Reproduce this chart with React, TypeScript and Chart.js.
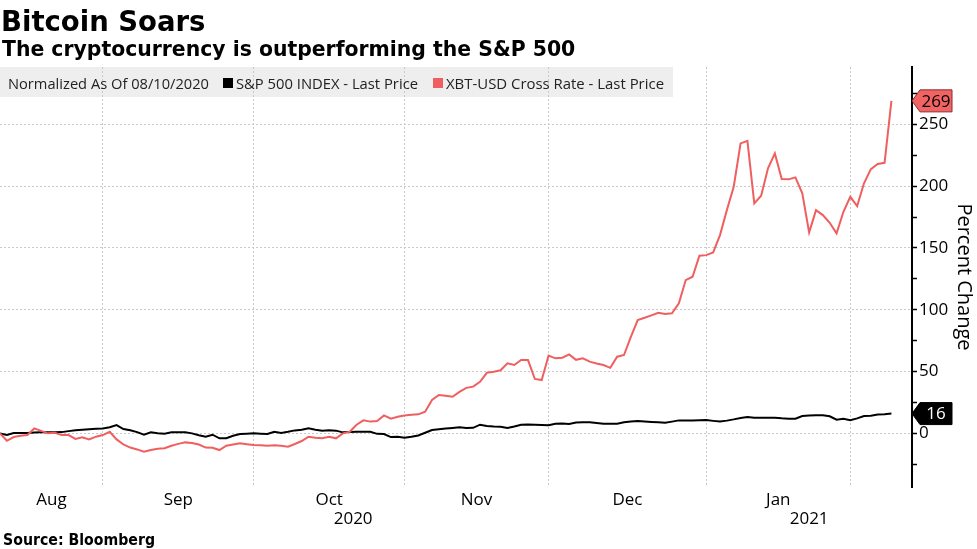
import React, { useEffect, useRef } from 'react';
import { Chart, registerables } from 'chart.js';

Chart.register(...registerables);

// ---- data (percent change, normalized as of 08/10/2020, one value per weekday) ----
const startDate = '2020-08-10';

const spxValues = [
  0, -1.3, 0.2, 0.3, 0.3, 0.6, 0.8, 0.8, 0.8, 1.0,
  1.8, 2.5, 3, 3.3, 3.7, 4, 4.9, 6.7, 3.5, 2.5,
  1, -1, 0.8, 0, -0.3, 0.8, 0.8, 0.8, 0, -1.5,
  -2.7, -1.1, -4, -4, -2, -0.5, -0.3, 0, -0.3, -0.5,
  1.3, 0.4, 1.3, 2.4, 3, 4.2, 3, 2.2, 2.5, 2.2,
  0.8, 1, 1.3, 1.3, 1.3, -0.4, -0.5, -3, -2.8, -3.5,
  -2.8, -1.7, 0.5, 2.7, 3.3, 4, 4.4, 4.9, 4.3, 4.5,
  7, 6, 5.5, 5.3, 4.3, 5.5, 7, 7.2, 7, 6.7,
  6.5, 7.8, 8, 7.6, 8.8, 9, 8.9, 8.3, 7.8, 7.8,
  7.8, 9, 9.6, 10, 9.6, 9.2, 8.9, 8.6, 9.5, 10.5,
  10.5, 10.5, 10.6, 10.8, 10.1, 9.5, 10.3, 11.3, 12.5, 13.3,
  12.7, 12.7, 12.7, 12.7, 12.2, 11.9, 11.9, 14, 14.4, 14.6,
  14.6, 13.8, 11, 11.8, 10.7, 12.1, 14, 14.2, 15.2, 15.4,
  16,
];

const xbtValues = [
  0, -6, -3, -2, -1.4, 4, 2, 0, 0.5, -1.4,
  -1.4, -4.5, -3.2, -4.9, -2.7, -1.4, 1.3, -4.9, -9, -11.5,
  -13, -14.9, -13.5, -12.5, -12, -10, -8.5, -7.3, -7.8, -9,
  -11.5, -11.6, -13.5, -10, -9, -8, -8.8, -9.5, -9.7, -10,
  -9.7, -10, -10.8, -8.6, -6.2, -2.7, -3.5, -4, -2.7, -4,
  0, 1.3, 7, 10.5, 9.5, 9.9, 14.5, 11.8, 13.4, 14.5,
  15, 15.4, 17.5, 27, 31, 30.5, 29.6, 33.5, 36.8, 37.8,
  41.7, 49, 49.8, 51, 56.6, 55.3, 59.3, 59.3, 44, 43.1,
  63, 60.7, 61.2, 63.9, 59.5, 60.7, 58, 56.5, 55.3, 53,
  62, 63.4, 78, 91.7, 93.5, 95.5, 97.6, 96.5, 97.1, 105.2,
  124, 126.7, 143.7, 144.2, 146.4, 160.4, 180.6, 199.5, 234.6, 236.7,
  186.1, 192.2, 214.4, 226.5, 205.7, 205.5, 207.1, 194.2, 162.6, 180.6,
  176.6, 170.4, 161.8, 179.3, 191.4, 183.9, 202.3, 213.8, 217.9, 218.9,
  269,
];

const monthLabels = ['Aug', 'Sep', 'Oct', 'Nov', 'Dec', 'Jan'];
const yearLabels = ['2020', '2021'];
const yTickValues = [-25, 0, 25, 50, 75, 100, 125, 150, 175, 200, 225, 250, 275];

const seriesNames = ['S&P 500 INDEX - Last Price', 'XBT-USD Cross Rate - Last Price'];
const legendNote = 'Normalized As Of 08/10/2020';
const titleText = 'Bitcoin Soars';
const subtitleText = 'The cryptocurrency is outperforming the S&P 500';
const sourceText = 'Source: Bloomberg';
const yTitle = 'Percent Change';

// ---- layout / style ----
const W = 977;
const H = 549;
const X_MAX = 133;
const Y_MIN = -43.4;
const Y_MAX = 296.4;
const RED = '#f05f5f';
const GRID = '#c9c9c9';
const SANS = '"Open Sans", "Noto Sans", sans-serif';
const BOLD = '"DejaVu Sans", sans-serif';

function weekdayDates(start: string, n: number): Date[] {
  const out: Date[] = [];
  const d = new Date(start + 'T00:00:00Z');
  while (out.length < n) {
    const wd = d.getUTCDay();
    if (wd !== 0 && wd !== 6) out.push(new Date(d.getTime()));
    d.setUTCDate(d.getUTCDate() + 1);
  }
  return out;
}

const dates = weekdayDates(startDate, spxValues.length);
const monthEnds: number[] = [];
for (let i = 0; i < dates.length - 1; i++) {
  if (dates[i].getUTCMonth() !== dates[i + 1].getUTCMonth()) monthEnds.push(i);
}
const bounds = [0, ...monthEnds];
const monthMids = monthLabels.map((_, k) => (bounds[k] + bounds[k + 1]) / 2);
const yearEnd = monthEnds.find((i) => dates[i].getUTCMonth() === 11) as number;
const yearMids = [(0 + yearEnd) / 2, (yearEnd + X_MAX) / 2];
const midLabel = new Map<number, string>();
monthMids.forEach((v, k) => midLabel.set(v, monthLabels[k]));
const xTickValues = [...monthEnds, ...monthMids].sort((a, b) => a - b);

function drawTag(ctx: CanvasRenderingContext2D, x: number, y: number, text: string, fill: string, stroke: string, textColor: string) {
  const h = 11;
  ctx.save();
  ctx.beginPath();
  ctx.moveTo(x, y);
  ctx.lineTo(x + 8, y - h);
  ctx.lineTo(x + 40, y - h);
  ctx.lineTo(x + 40, y + h);
  ctx.lineTo(x + 8, y + h);
  ctx.closePath();
  ctx.fillStyle = fill;
  ctx.fill();
  ctx.strokeStyle = stroke;
  ctx.lineWidth = 1;
  ctx.stroke();
  ctx.fillStyle = textColor;
  ctx.font = `17px ${SANS}`;
  ctx.textAlign = 'center';
  ctx.textBaseline = 'middle';
  ctx.fillText(text, x + 24, y + 1);
  ctx.restore();
}

const decor = {
  id: 'decor',
  beforeDraw(chart: any) {
    const ctx = chart.ctx as CanvasRenderingContext2D;
    ctx.save();
    ctx.fillStyle = '#ffffff';
    ctx.fillRect(0, 0, W, H);
    ctx.fillStyle = '#eeeeee';
    ctx.fillRect(0, 67, 673, 30);
    ctx.restore();
  },
  afterDraw(chart: any) {
    const ctx = chart.ctx as CanvasRenderingContext2D;
    const xs = chart.scales.x;
    const ys = chart.scales.y;
    ctx.save();
    ctx.fillStyle = '#000';
    ctx.textAlign = 'left';
    ctx.textBaseline = 'alphabetic';
    ctx.font = `bold 27.5px ${BOLD}`;
    ctx.fillText(titleText, 1, 31, 205);
    ctx.font = `bold 20.4px ${BOLD}`;
    ctx.fillText(subtitleText, 2, 56, 576);

    // legend
    ctx.font = `15px ${SANS}`;
    ctx.fillStyle = '#222';
    ctx.fillText(legendNote, 8, 89, 201);
    ctx.fillStyle = '#000';
    ctx.fillRect(223, 78, 10, 10);
    ctx.fillStyle = '#222';
    ctx.fillText(seriesNames[0], 236, 89, 182);
    ctx.fillStyle = RED;
    ctx.fillRect(433, 78, 10, 10);
    ctx.fillStyle = '#222';
    ctx.fillText(seriesNames[1], 446, 89, 218);

    // year labels
    ctx.fillStyle = '#000';
    ctx.font = `17px ${SANS}`;
    ctx.textAlign = 'center';
    ctx.textBaseline = 'middle';
    yearMids.forEach((v, k) => ctx.fillText(yearLabels[k], xs.getPixelForValue(v), 519));

    // source
    ctx.textAlign = 'left';
    ctx.textBaseline = 'alphabetic';
    ctx.font = `bold 15px ${BOLD}`;
    ctx.fillText(sourceText, 3, 545, 152);
    ctx.restore();

    // last-value tags
    const ax = chart.chartArea.right;
    const lastX = xbtValues[xbtValues.length - 1];
    const lastS = spxValues[spxValues.length - 1];
    drawTag(ctx, ax, ys.getPixelForValue(lastX), String(Math.round(lastX)), '#f26464', '#8a2b2b', '#000');
    drawTag(ctx, ax, ys.getPixelForValue(lastS), String(Math.round(lastS)), '#000', '#000', '#fff');
  },
};

export default function App() {
  const ref = useRef<HTMLCanvasElement | null>(null);
  useEffect(() => {
    if (!ref.current) return;
    const chart = new Chart(ref.current, {
      type: 'line',
      data: {
        datasets: [
          {
            label: seriesNames[1],
            data: xbtValues.map((v, i) => ({ x: i, y: v })),
            borderColor: RED,
            borderWidth: 2,
            pointRadius: 0,
            tension: 0,
            fill: false,
          },
          {
            label: seriesNames[0],
            data: spxValues.map((v, i) => ({ x: i, y: v })),
            borderColor: '#000',
            borderWidth: 2,
            pointRadius: 0,
            tension: 0,
            fill: false,
          },
        ],
      },
      options: {
        responsive: false,
        animation: false,
        devicePixelRatio: 1,
        layout: { padding: { top: 67, left: 0, right: 0, bottom: 0 } },
        plugins: { legend: { display: false }, tooltip: { enabled: false } },
        scales: {
          x: {
            type: 'linear',
            min: 0,
            max: X_MAX,
            afterBuildTicks: (s: any) => {
              s.ticks = xTickValues.map((v) => ({ value: v }));
            },
            afterFit: (s: any) => {
              s.height = 62;
            },
            ticks: {
              autoSkip: false,
              maxRotation: 0,
              minRotation: 0,
              padding: 3,
              color: '#000',
              font: { family: SANS, size: 17 },
              callback: (v: any) => midLabel.get(Number(v)) ?? '',
            },
            grid: {
              drawTicks: false,
              color: (c: any) => (c.tick && monthEnds.includes(c.tick.value) ? GRID : 'rgba(0,0,0,0)'),
              lineWidth: 1,
            },
            border: { display: false, dash: [2, 2] },
          },
          y: {
            type: 'linear',
            position: 'right',
            min: Y_MIN,
            max: Y_MAX,
            afterBuildTicks: (s: any) => {
              s.ticks = yTickValues.map((v) => ({ value: v }));
            },
            afterFit: (s: any) => {
              s.width = 65;
            },
            ticks: {
              padding: 2,
              color: '#000',
              font: { family: SANS, size: 17 },
              callback: (v: any) => (Number(v) % 50 === 0 ? String(v) : ''),
            },
            grid: {
              drawTicks: true,
              tickLength: 5,
              tickColor: '#000',
              tickWidth: 1.5,
              color: (c: any) => (c.tick && c.tick.value % 50 === 0 && c.tick.value >= 0 ? GRID : 'rgba(0,0,0,0)'),
              lineWidth: 1,
            },
            border: { display: true, color: '#000', width: 2, dash: [2, 2] },
            title: {
              display: true,
              text: yTitle,
              color: '#000',
              font: { family: SANS, size: 20 },
              padding: { top: 1, bottom: 0 },
            },
          },
        },
      },
      plugins: [decor],
    } as any);
    return () => chart.destroy();
  }, []);
  return (
    <div style={{ position: 'absolute', left: 0, top: 0, width: W, height: H }}>
      <canvas ref={ref} width={W} height={H} style={{ display: 'block', width: W, height: H }} />
    </div>
  );
}
